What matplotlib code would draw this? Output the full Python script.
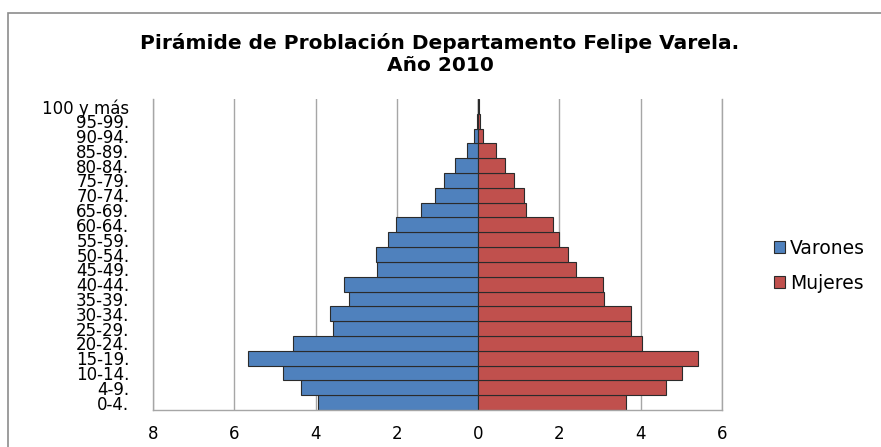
import matplotlib
matplotlib.use("Agg")
import matplotlib.pyplot as plt
from matplotlib.patches import Rectangle
import numpy as np

plt.rcParams['font.family'] = ['DejaVu Sans']

grupos = ["0-4.", "4-9.", "10-14.", "15-19.", "20-24.", "25-29.", "30-34.", "35-39.",
          "40-44.", "45-49.", "50-54.", "55-59.", "60-64.", "65-69.", "70-74.", "75-79.",
          "80-84.", "85-89.", "90-94.", "95-99.", "100 y más"]
varones = [3.93, 4.37, 4.81, 5.66, 4.55, 3.56, 3.65, 3.18, 3.29, 2.49, 2.51, 2.22,
           2.01, 1.40, 1.05, 0.85, 0.56, 0.27, 0.10, 0.04, 0.01]
mujeres = [3.65, 4.61, 5.02, 5.40, 4.03, 3.76, 3.77, 3.10, 3.07, 2.40, 2.22, 1.99,
           1.85, 1.18, 1.12, 0.89, 0.65, 0.45, 0.13, 0.05, 0.01]
xticks = [-8, -6, -4, -2, 0, 2, 4, 6]
titulo = "Pirámide de Problación Departamento Felipe Varela.\nAño 2010"

fig = plt.figure(figsize=(8.81, 4.47), dpi=100)
ax = fig.add_axes([153/881, 1 - 410/447, (722 - 153)/881, (410 - 99)/447])

# outer chart frame
fig.patches.append(Rectangle((8/881, -0.1), 1.2, 1 - 13/447 + 0.1, transform=fig.transFigure,
                             fill=False, edgecolor="#8c8c8c", linewidth=1.2))

y = np.arange(len(grupos))
ax.axvline(0, color="#8c8c8c", linewidth=1, zorder=1)
ax.barh(y, [-v for v in varones], height=1.0, color="#4F81BD", edgecolor="#2b2b2b",
        linewidth=0.8, label="Varones", zorder=2)
ax.barh(y, mujeres, height=1.0, color="#C0504D", edgecolor="#2b2b2b",
        linewidth=0.8, label="Mujeres", zorder=2)

ax.set_xlim(-8, 6)
ax.set_ylim(-0.5, len(grupos) - 0.5)
ax.set_xticks(xticks)
ax.set_xticklabels([str(abs(t)) for t in xticks], fontsize=12)
ax.set_yticks(y)
ax.set_yticklabels(grupos, fontsize=12)
ax.tick_params(axis='x', length=0, pad=11)
ax.tick_params(axis='y', length=0, pad=17)
ax.xaxis.grid(True, color="#a6a6a6", linewidth=1)
ax.set_axisbelow(True)
ax.spines["top"].set_visible(False)
for s in ["left", "right", "bottom"]:
    ax.spines[s].set_color("#a6a6a6")
    ax.spines[s].set_linewidth(1)

fig.text(440/881, 1 - 54/447, titulo, ha="center", va="center", fontsize=14.5,
         fontweight="bold", linespacing=1.2)

ax.legend(loc="center left", bbox_to_anchor=(757/881, 1 - 266/447),
          bbox_transform=fig.transFigure, frameon=False, fontsize=13.5,
          handlelength=0.6, handleheight=0.6, handletextpad=0.25, labelspacing=0.85)

fig.savefig("out.png", dpi=100)
